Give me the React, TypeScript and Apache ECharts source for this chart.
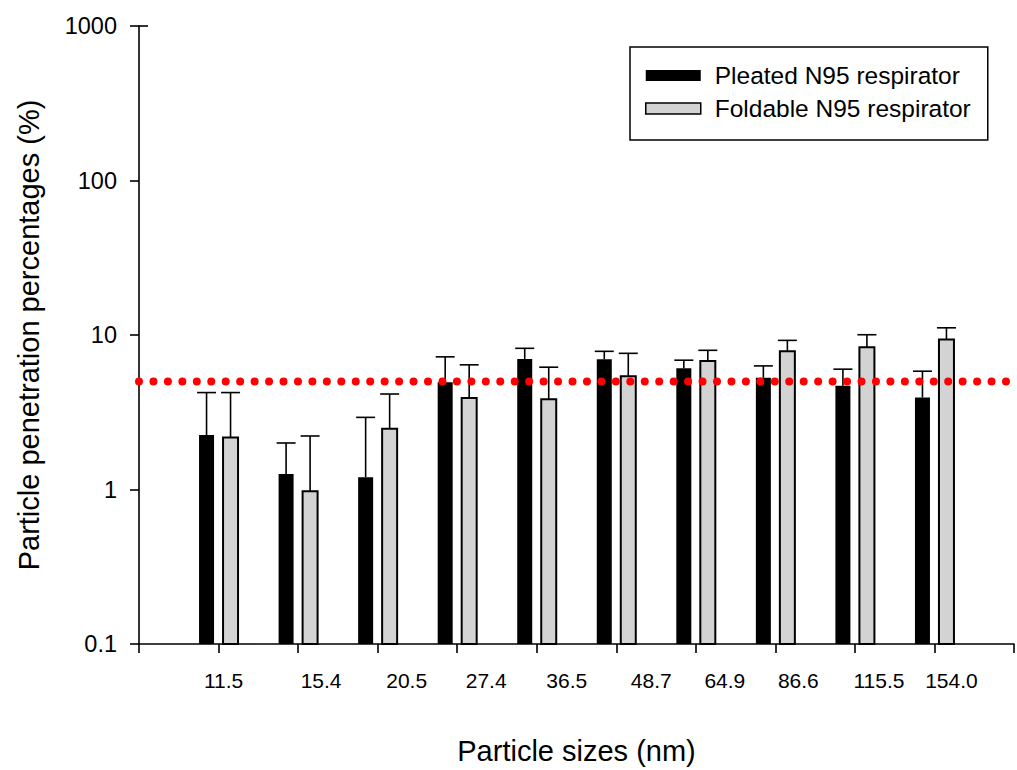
import React, { useEffect, useRef } from "react";
import * as echarts from "echarts";

// Particle mobility diameters (nm)
const particleSizes = ["11.5", "15.4", "20.5", "27.4", "36.5", "48.7", "64.9", "86.6", "115.5", "154.0"];
// Mean penetration (%) and standard deviation for each respirator type
const pleatedMean = [2.25, 1.26, 1.2, 4.94, 7.0, 6.97, 6.1, 5.29, 4.7, 3.94];
const pleatedSD = [1.99, 0.74, 1.73, 2.28, 1.2, 0.87, 0.77, 1.02, 1.31, 1.89];
const foldableMean = [2.17, 0.975, 2.47, 3.91, 3.84, 5.4, 6.8, 7.84, 8.32, 9.36];
const foldableSD = [2.07, 1.245, 1.68, 2.5, 2.35, 2.21, 1.16, 1.39, 1.72, 1.77];
// N95 certification limit (%)
const thresholdPct = 5;
// horizontal nudge of each size label (px)
const labelShift = [5, 23, 29, 29, 30, 35, 29, 23, 24, 17];

const SERIES_PLEATED = "Pleated N95 respirator";
const SERIES_FOLDABLE = "Foldable N95 respirator";

const FONT = '"Liberation Sans", Arial, Helvetica, sans-serif';
const Y_MIN = 0.1;
const Y_MAX = 1000;
const BAR_W = 15;
const BAR_OFFSET = 12;
const CAP_HALF = 9.5;
const TICK_LEN = 9;

function barWithError(offset: number, fill: string, stroke: string, strokeWidth: number) {
  return (_params: any, api: any) => {
    const idx = api.value(0);
    const mean = api.value(1);
    const sd = api.value(2);
    const top = api.coord([idx, mean]);
    const base = api.coord([idx, Y_MIN]);
    const upper = api.coord([idx, mean + sd]);
    const cx = top[0] + offset;
    const lineStyle = { stroke: "#000", lineWidth: 1.6 };
    return {
      type: "group",
      children: [
        { type: "line", shape: { x1: cx, y1: top[1], x2: cx, y2: upper[1] }, style: lineStyle },
        { type: "line", shape: { x1: cx - CAP_HALF, y1: upper[1], x2: cx + CAP_HALF, y2: upper[1] }, style: lineStyle },
        {
          type: "rect",
          shape: { x: cx - BAR_W / 2, y: top[1], width: BAR_W, height: base[1] - top[1] },
          style: { fill, stroke, lineWidth: strokeWidth },
        },
      ],
    };
  };
}

export default function App() {
  const ref = useRef<HTMLDivElement>(null);

  useEffect(() => {
    if (!ref.current) return;
    const chart = echarts.init(ref.current, null, { renderer: "svg" });

    const xData: any[] = [
      "",
      ...particleSizes.map((s, i) => ({
        value: s,
        textStyle: { padding: [0, 0, 0, labelShift[i] * 2] },
      })),
      "",
    ];

    chart.setOption({
      animation: false,
      backgroundColor: "#fff",
      textStyle: { fontFamily: FONT, color: "#000" },
      grid: { left: 139, right: -13, top: 26, bottom: 119, containLabel: false },
      legend: {
        orient: "vertical",
        left: 630,
        top: 47,
        padding: [16, 17, 19, 15],
        borderColor: "#000",
        borderWidth: 1.5,
        itemWidth: 55,
        itemHeight: 11,
        itemGap: 8,
        selectedMode: false,
        textStyle: { fontFamily: FONT, fontSize: 24.5, color: "#000", padding: [0, 0, 0, 9] },
        data: [
          { name: SERIES_PLEATED, icon: "rect", itemStyle: { color: "#000", borderWidth: 0 } },
          {
            name: SERIES_FOLDABLE,
            icon: "rect",
            itemStyle: { color: "#d3d3d3", borderColor: "#000", borderWidth: 1.5 },
          },
        ],
      },
      xAxis: {
        type: "category",
        data: xData,
        boundaryGap: false,
        name: "Particle sizes (nm)",
        nameLocation: "middle",
        nameGap: 92,
        nameTextStyle: { fontFamily: FONT, fontSize: 29, color: "#000", verticalAlign: "top" },
        axisLine: { lineStyle: { color: "#000", width: 1.6 } },
        axisTick: { show: true, inside: false, length: TICK_LEN, interval: 0, lineStyle: { color: "#000", width: 1.6 } },
        axisLabel: { interval: 0, fontFamily: FONT, fontSize: 21, color: "#000", margin: 26 },
        splitLine: { show: false },
      },
      yAxis: {
        type: "log",
        logBase: 10,
        min: Y_MIN,
        max: Y_MAX,
        name: "Particle penetration percentages (%)",
        nameLocation: "middle",
        nameRotate: 90,
        nameGap: 96,
        nameTextStyle: { fontFamily: FONT, fontSize: 29, color: "#000" },
        axisLine: { show: true, lineStyle: { color: "#000", width: 1.6 } },
        axisTick: { show: true, inside: false, length: TICK_LEN, lineStyle: { color: "#000", width: 1.6 } },
        minorTick: { show: false },
        axisLabel: {
          fontFamily: FONT,
          fontSize: 23.5,
          color: "#000",
          margin: 22,
          formatter: (v: number) => (v < 1 ? v.toFixed(1) : String(Math.round(v))),
        },
        splitLine: { show: false },
      },
      series: [
        {
          name: SERIES_PLEATED,
          type: "custom",
          renderItem: barWithError(-BAR_OFFSET, "#000", "#000", 0),
          itemStyle: { color: "#000" },
          encode: { x: 0, y: 1 },
          data: particleSizes.map((s, i) => [s, pleatedMean[i], pleatedSD[i]]),
          z: 2,
        },
        {
          name: SERIES_FOLDABLE,
          type: "custom",
          renderItem: barWithError(BAR_OFFSET, "#d3d3d3", "#000", 2),
          itemStyle: { color: "#d3d3d3" },
          encode: { x: 0, y: 1 },
          data: particleSizes.map((s, i) => [s, foldableMean[i], foldableSD[i]]),
          z: 2,
        },
        {
          name: "limit",
          type: "line",
          symbol: "none",
          silent: true,
          z: 5,
          data: [
            [0, thresholdPct],
            [particleSizes.length + 1, thresholdPct],
          ],
          lineStyle: { color: "#ff0000", width: 8, type: [0.01, 14.44], cap: "round" },
        },
      ],
    });

    // inner half of the top tick on the value axis
    const topPt = chart.convertToPixel({ xAxisIndex: 0, yAxisIndex: 0 }, [0, Y_MAX]) as number[];
    if (topPt) {
      chart.setOption({
        graphic: [
          {
            type: "line",
            shape: { x1: topPt[0], y1: topPt[1], x2: topPt[0] + TICK_LEN, y2: topPt[1] },
            style: { stroke: "#000", lineWidth: 1.6 },
            silent: true,
          },
        ],
      });
    }

    return () => chart.dispose();
  }, []);

  return <div ref={ref} style={{ position: "absolute", left: 0, top: 0, width: 1017, height: 770 }} />;
}
